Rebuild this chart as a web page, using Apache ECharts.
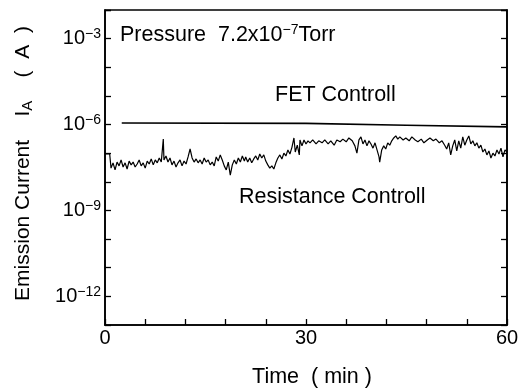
<!DOCTYPE html>
<html>
<head>
<meta charset="utf-8">
<script src="https://cdn.jsdelivr.net/npm/echarts@6/dist/echarts.min.js"></script>
<style>
  html, body { margin: 0; padding: 0; background: #fff; }
  #chart { width: 520px; height: 389px; }
</style>
</head>
<body>
<div id="chart"></div>
<script>
'use strict';

// FET controlled emission current (time in min, current in A)
const fetTime = [2.5, 30, 45, 60];
const fetCurrent = [1.13e-6, 1.1e-6, 9.5e-7, 8.3e-7];

// resistance controlled emission current
const resTime = [
    0, 0.7, 0.9, 1.2, 1.5, 1.8, 2.1, 2.4, 2.7, 3.0,
    3.3, 3.6, 3.9, 4.2, 4.5, 4.8, 5.1, 5.4, 5.7, 6.0,
    6.3, 6.6, 6.9, 7.2, 7.5, 7.8, 8.1, 8.4, 8.7, 8.8,
    9.1, 9.4, 9.7, 10.0, 10.3, 10.6, 10.9, 11.2, 11.5, 11.8,
    12.1, 12.4, 12.7, 13.0, 13.3, 13.6, 13.9, 14.2, 14.5, 14.8,
    15.1, 15.4, 15.7, 16.0, 16.3, 16.6, 16.9, 17.2, 17.5, 17.8,
    18.1, 18.4, 18.7, 19.0, 19.3, 19.6, 19.9, 20.2, 20.5, 20.8,
    21.0, 21.3, 21.6, 21.9, 22.2, 22.5, 22.8, 23.1, 23.4, 23.7,
    24.0, 24.3, 24.6, 24.9, 25.2, 25.5, 25.8, 26.1, 26.4, 26.7,
    27.0, 27.3, 27.6, 27.9, 28.2, 28.4, 28.7, 29.0, 29.1, 29.4,
    29.7, 30.0, 30.3, 30.6, 31.0, 31.5, 31.9, 32.4, 32.8, 33.3,
    33.7, 34.2, 34.6, 35.1, 35.5, 36.0, 36.4, 36.9, 37.3, 37.6,
    37.9, 38.2, 38.5, 38.8, 39.1, 39.4, 39.7, 40.0, 40.3, 40.6,
    40.9, 41.0, 41.3, 41.6, 41.9, 42.2, 42.5, 42.8, 43.1, 43.4,
    43.7, 44.0, 44.5, 44.9, 45.4, 45.8, 46.3, 46.7, 47.2, 47.6,
    48.1, 48.5, 49.0, 49.4, 49.9, 50.3, 50.7, 51.0, 51.3, 51.6,
    51.9, 52.2, 52.5, 52.8, 53.1, 53.4, 53.7, 54.0, 54.3, 54.6,
    54.9, 55.2, 55.5, 55.8, 56.1, 56.4, 56.7, 57.0, 57.3, 57.6,
    57.9, 58.2, 58.5, 58.8, 59.1, 59.4, 59.7, 60.0
];
const resCurrent = [
    9.4e-8, 9.4e-8, 3.0e-8, 4.6e-8, 2.6e-8, 4.9e-8, 3.6e-8, 5.8e-8, 3.3e-8, 4.6e-8,
    2.8e-8, 5.3e-8, 3.9e-8, 4.9e-8, 3.3e-8, 4.2e-8, 5.8e-8, 3.6e-8, 4.6e-8, 3.0e-8,
    5.3e-8, 4.2e-8, 6.3e-8, 3.9e-8, 5.8e-8, 4.6e-8, 6.8e-8, 4.9e-8, 3.1e-7, 5.8e-8,
    8.0e-8, 4.9e-8, 6.8e-8, 3.9e-8, 5.3e-8, 3.3e-8, 4.6e-8, 5.8e-8, 3.6e-8, 5.3e-8,
    4.2e-8, 7.4e-8, 1.4e-7, 6.8e-8, 4.9e-8, 6.3e-8, 4.6e-8, 5.8e-8, 4.2e-8, 6.8e-8,
    4.9e-8, 5.8e-8, 3.9e-8, 4.9e-8, 3.6e-8, 7.4e-8, 5.3e-8, 8.7e-8, 5.8e-8, 3.6e-8,
    2.6e-8, 4.9e-8, 1.7e-8, 3.9e-8, 5.8e-8, 4.2e-8, 6.8e-8, 4.9e-8, 8.0e-8, 5.3e-8,
    7.4e-8, 4.9e-8, 6.8e-8, 4.6e-8, 6.3e-8, 8.0e-8, 5.8e-8, 9.4e-8, 6.8e-8, 8.7e-8,
    5.3e-8, 3.9e-8, 3.0e-8, 3.6e-8, 2.8e-8, 4.6e-8, 6.8e-8, 8.7e-8, 6.3e-8, 1.0e-7,
    8.0e-8, 1.3e-7, 9.4e-8, 1.6e-7, 3.4e-7, 1.1e-7, 1.9e-7, 8.7e-8, 2.9e-7, 1.8e-7,
    2.9e-7, 2.1e-7, 2.7e-7, 2.3e-7, 2.9e-7, 2.1e-7, 2.7e-7, 2.3e-7, 2.9e-7, 2.1e-7,
    2.7e-7, 1.9e-7, 2.9e-7, 2.5e-7, 3.1e-7, 2.5e-7, 3.4e-7, 2.7e-7, 1.8e-7, 1.0e-7,
    2.9e-7, 3.7e-7, 2.1e-7, 2.9e-7, 1.8e-7, 2.7e-7, 2.1e-7, 1.5e-7, 2.3e-7, 1.3e-7,
    7.4e-8, 4.9e-8, 1.3e-7, 1.8e-7, 1.4e-7, 2.3e-7, 1.9e-7, 2.7e-7, 3.4e-7, 4.0e-7,
    3.1e-7, 3.7e-7, 2.9e-7, 3.4e-7, 2.7e-7, 3.7e-7, 2.9e-7, 2.5e-7, 3.1e-7, 2.3e-7,
    2.9e-7, 3.4e-7, 2.7e-7, 3.1e-7, 2.3e-7, 2.7e-7, 1.9e-7, 1.4e-7, 2.3e-7, 8.7e-8,
    1.8e-7, 2.9e-7, 1.2e-7, 2.7e-7, 1.5e-7, 3.7e-7, 1.9e-7, 2.9e-7, 4.0e-7, 2.1e-7,
    2.7e-7, 1.8e-7, 2.3e-7, 1.5e-7, 1.9e-7, 1.1e-7, 1.4e-7, 8.7e-8, 1.2e-7, 6.8e-8,
    1.0e-7, 8.0e-8, 1.3e-7, 9.4e-8, 1.5e-7, 7.4e-8, 1.3e-7, 1.1e-7
];

// labelled ticks
const xLabelled = [0, 30, 60];
const yLabelledExp = [-3, -6, -9, -12];

const FONT = 'Liberation Sans';

const zip = (xs, ys) => xs.map((x, i) => [x, ys[i]]);

function yLabel(v) {
    const e = Math.round(Math.log10(v));
    return yLabelledExp.includes(e) ? '10{sup|\u2212' + Math.abs(e) + '}' : '';
}

function yAxisDef(pos) {
    return {
        type: 'log',
        logBase: 10,
        position: pos,
        min: 1e-13,
        max: 1e-2,
        interval: 1,
        splitNumber: 11,
        axisLine: { show: true, lineStyle: { color: '#000', width: 1.6 } },
        axisTick: { show: true, inside: true, length: 6, lineStyle: { color: '#000', width: 1.3 } },
        minorTick: { show: false },
        splitLine: { show: false },
        axisLabel: pos === 'left' ? {
            show: true,
            margin: 4,
            formatter: yLabel,
            color: '#000',
            fontFamily: FONT,
            fontSize: 20,
            lineHeight: 23,
            rich: {
                sup: { fontFamily: FONT, fontSize: 14, lineHeight: 14, verticalAlign: 'top', color: '#000' }
            }
        } : { show: false }
    };
}

const chart = echarts.init(document.getElementById('chart'), null, { renderer: 'canvas' });

chart.setOption({
    animation: false,
    backgroundColor: '#fff',
    grid: {
        left: 105, right: 13, top: 10, bottom: 64,
        show: true, borderColor: '#000', borderWidth: 1.6,
        containLabel: false,
        outerBoundsMode: 'none'
    },
    xAxis: {
        type: 'value',
        min: 0,
        max: 60,
        interval: 6,
        axisLine: { show: true, lineStyle: { color: '#000', width: 1.6 } },
        axisTick: { show: true, inside: true, length: 6, lineStyle: { color: '#000', width: 1.3 } },
        splitLine: { show: false },
        axisLabel: {
            margin: 3,
            color: '#000',
            fontFamily: FONT,
            fontSize: 20,
            formatter: v => (xLabelled.includes(v) ? String(v) : '')
        },
        name: 'Time  ( min )',
        nameLocation: 'middle',
        nameGap: 41,
        nameTextStyle: { color: '#000', fontFamily: FONT, fontSize: 21.5, padding: [0, 0, 0, 12] }
    },
    yAxis: [
        Object.assign(yAxisDef('left'), {
            name: 'Emission Current    I{sub|A}    (  A  )',
            nameLocation: 'middle',
            nameRotate: 90,
            nameGap: 70,
            nameTextStyle: {
                color: '#000', fontFamily: FONT, fontSize: 21, lineHeight: 24,
                padding: [0, 0, 0, 8],
                rich: { sub: { fontFamily: FONT, fontSize: 15, lineHeight: 15, verticalAlign: 'bottom', color: '#000' } }
            }
        }),
        yAxisDef('right')
    ],
    graphic: [
        {
            type: 'text', left: 120, top: 23,
            style: {
                text: 'Pressure  7.2x10{sup|\u22127}Torr',
                fontFamily: FONT, fontSize: 21.5, lineHeight: 24, fill: '#000',
                rich: { sup: { fontFamily: FONT, fontSize: 14, lineHeight: 14, verticalAlign: 'top', fill: '#000' } }
            }
        },
        {
            type: 'text', left: 275, top: 84,
            style: { text: 'FET Controll', fontFamily: FONT, fontSize: 21.5, fill: '#000' }
        },
        {
            type: 'text', left: 239, top: 186,
            style: { text: 'Resistance Controll', fontFamily: FONT, fontSize: 21.5, fill: '#000' }
        }
    ],
    series: [
        {
            name: 'FET Controll',
            type: 'line',
            yAxisIndex: 0,
            data: zip(fetTime, fetCurrent),
            showSymbol: false,
            lineStyle: { color: '#000', width: 1.6 }
        },
        {
            name: 'Resistance Controll',
            type: 'line',
            yAxisIndex: 0,
            data: zip(resTime, resCurrent),
            showSymbol: false,
            lineStyle: { color: '#000', width: 1.2 }
        }
    ]
});
</script>
</body>
</html>
